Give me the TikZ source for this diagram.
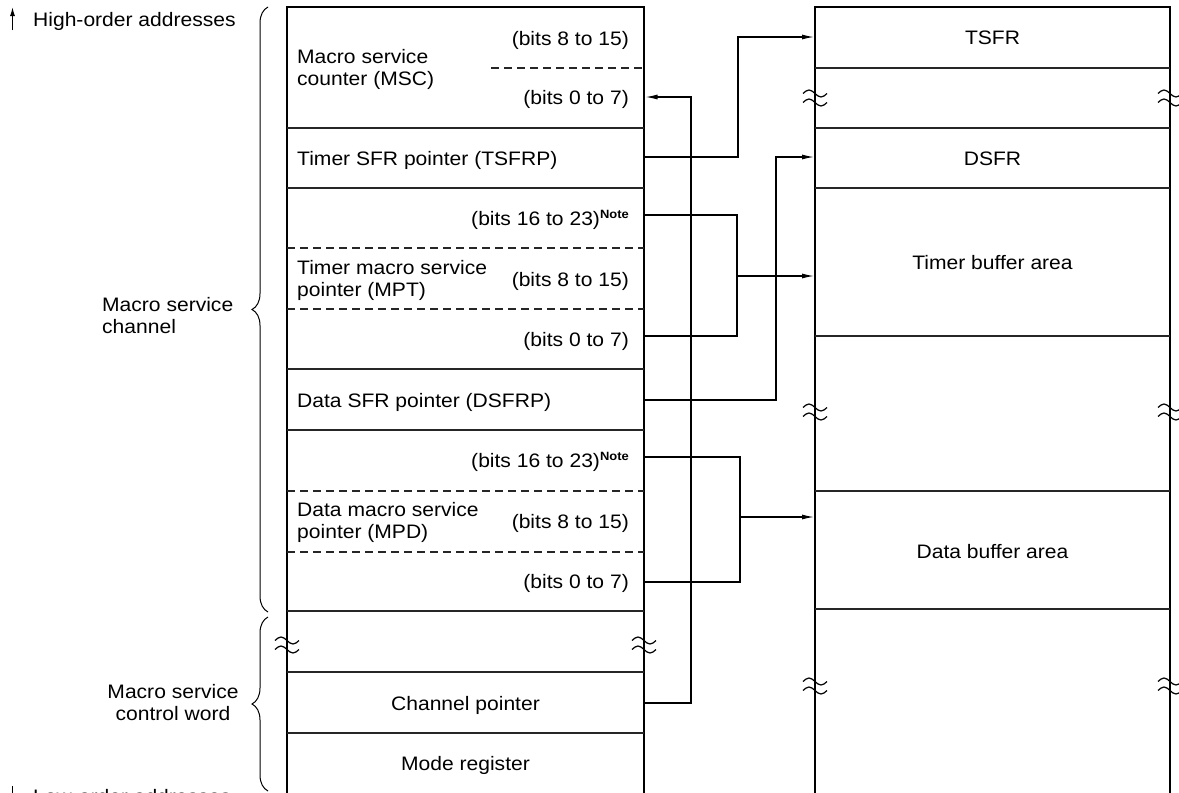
\documentclass[tikz,border=0pt]{standalone}
\usepackage{fontspec}
\setmainfont{Liberation Sans}[FakeStretch=1.08]
\usetikzlibrary{arrows.meta,decorations.pathreplacing}
\newcommand\notesup{\raisebox{7pt}{\fontsize{12}{12}\selectfont\bfseries Note}}
\newcommand\brkmark[2]{%
  \draw[brk] (#1-12,#2-4.5) sin (#1-6,#2-8) cos (#1,#2-4.5) sin (#1+6,#2-1) cos (#1+12,#2-4.5);
  \draw[brk] (#1-12,#2+4.5) sin (#1-6,#2+1) cos (#1,#2+4.5) sin (#1+6,#2+8) cos (#1+12,#2+4.5);}
\begin{document}
\begin{tikzpicture}[x=1pt,y=-1pt,
  outer/.style={line width=2.6pt},
  sep/.style={line width=1.3pt, black!85},
  dsep/.style={sep, dash pattern=on 8pt off 5pt},
  conn/.style={line width=1.2pt},
  arr/.style={conn, -{Latex[length=12pt,width=5pt]}},
  txt/.style={font=\fontsize{19.5}{22}\selectfont, inner sep=0pt},
  brk/.style={line width=1.2pt},
  brace/.style={line width=1pt, decorate, decoration={brace, amplitude=16pt}}]
\useasboundingbox (0,0) rectangle (1179,793);
\clip (0,0) rectangle (1179,793);

% ---------- left box ----------
\draw[outer] (287,800) -- (287,7) -- (644,7) -- (644,800);
\foreach \y in {128,188,369,430,611,672,733} \draw[sep] (287,\y) -- (644,\y);
\draw[dsep] (491,68) -- (644,68);
\foreach \y in {248,309,491,552} \draw[dsep] (287,\y) -- (644,\y);
\brkmark{287}{645}
\brkmark{644}{645}

% ---------- right box ----------
\draw[outer] (815,800) -- (815,7) -- (1170,7) -- (1170,800);
\foreach \y in {68,128,188,336,491,609} \draw[sep] (815,\y) -- (1170,\y);
\brkmark{815}{98}
\brkmark{1170}{98}
\brkmark{815}{412}
\brkmark{1170}{412}
\brkmark{815}{686}
\brkmark{1170}{686}

% ---------- left box texts ----------
\node[txt, anchor=base east] (mscA) at (629,45) {(bits 8 to 15)};
\node[txt, anchor=base east] (mscB) at (629,104) {(bits 0 to 7)};
\node[txt, anchor=west, align=left] (msc) at (297,69) {Macro service\\counter (MSC)};
\node[txt, anchor=base west] (tsfrp) at (297,165) {Timer SFR pointer (TSFRP)};
\node[txt, anchor=base east] (mptA) at (629,225) {(bits 16 to 23)\notesup};
\node[txt, anchor=west, align=left] (mpt) at (297,280) {Timer macro service\\pointer (MPT)};
\node[txt, anchor=base east] (mptB) at (629,286) {(bits 8 to 15)};
\node[txt, anchor=base east] (mptC) at (629,346) {(bits 0 to 7)};
\node[txt, anchor=base west] (dsfrp) at (297,407) {Data SFR pointer (DSFRP)};
\node[txt, anchor=base east] (mpdA) at (629,467) {(bits 16 to 23)\notesup};
\node[txt, anchor=west, align=left] (mpd) at (297,522) {Data macro service\\pointer (MPD)};
\node[txt, anchor=base east] (mpdB) at (629,528) {(bits 8 to 15)};
\node[txt, anchor=base east] (mpdC) at (629,588) {(bits 0 to 7)};
\node[txt, anchor=base] (chp) at (465.5,710) {Channel pointer};
\node[txt, anchor=base] (mode) at (465.5,770) {Mode register};

% ---------- right box texts ----------
\node[txt, anchor=base] (tsfr) at (992.5,44) {TSFR};
\node[txt, anchor=base] (dsfr) at (992.5,165) {DSFR};
\node[txt, anchor=base] (tba) at (992.5,269) {Timer buffer area};
\node[txt, anchor=base] (dba) at (992.5,558) {Data buffer area};

% ---------- side labels ----------
\node[txt, anchor=base west] (high) at (33,26) {High-order addresses};
\node[txt, anchor=base west] (low) at (33,803) {Low-order addresses};
\coordinate (hiB) at (12.5,30);
\coordinate (hiT) at (12.5,7);
\draw[conn, -{Latex[length=9pt,width=5pt]}] (hiB) -- (hiT);
\coordinate (loT) at (12.5,786);
\coordinate (loB) at (12.5,815);
\draw[conn, -{Latex[length=9pt,width=5pt]}] (loT) -- (loB);
\node[txt, anchor=west, align=left] (chan) at (102,316) {Macro service\\channel};
\node[txt, align=center] (ctrl) at (173,703) {Macro service\\control word};
\coordinate (brA1) at (268,612);
\coordinate (brA2) at (268,7);
\draw[brace] (brA1) -- (brA2);
\coordinate (brB1) at (268,791);
\coordinate (brB2) at (268,617);
\draw[brace] (brB1) -- (brB2);

% ---------- connectors ----------
\coordinate (jT) at (738,0);
\coordinate (jC) at (691,0);
\coordinate (jM) at (737,0);
\coordinate (jD) at (776,0);
\coordinate (jP) at (740,0);
\coordinate (tsfrpE) at (644,157);
\coordinate (tsfrW) at (814,37);
\coordinate (chpE) at (644,703);
\coordinate (mscBE) at (645.5,97);
\coordinate (mptAE) at (644,215);
\coordinate (mptBE) at (644,276);
\coordinate (mptCE) at (644,336);
\coordinate (tbaW) at (814,276);
\coordinate (dsfrpE) at (644,400);
\coordinate (dsfrW) at (814,157);
\coordinate (mpdAE) at (644,457);
\coordinate (mpdBE) at (644,517);
\coordinate (mpdCE) at (644,582);
\coordinate (dbaW) at (814,517);

\draw[arr] (tsfrpE) -- (tsfrpE -| jT) |- (tsfrW);
\draw[arr] (chpE) -- (chpE -| jC) |- (mscBE);
\draw[conn] (mptAE) -- (mptAE -| jM) -- (mptCE -| jM) -- (mptCE);
\draw[arr] (mptBE -| jM) -- (tbaW);
\draw[arr] (dsfrpE) -- (dsfrpE -| jD) |- (dsfrW);
\draw[conn] (mpdAE) -- (mpdAE -| jP) -- (mpdCE -| jP) -- (mpdCE);
\draw[arr] (mpdBE -| jP) -- (dbaW);
\end{tikzpicture}
\end{document}
